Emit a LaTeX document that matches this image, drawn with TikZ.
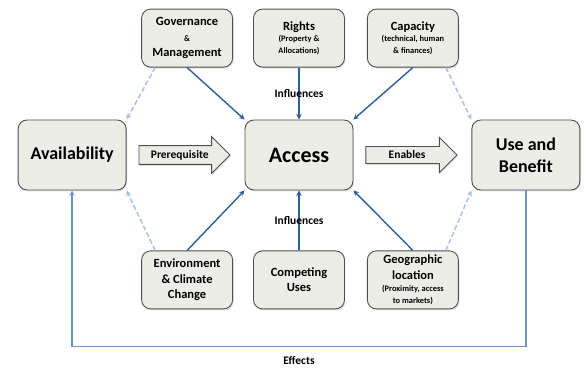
\documentclass[tikz,border=0pt]{standalone}
\usepackage{fontspec}
\setmainfont{Carlito}
\usetikzlibrary{positioning,shapes.arrows,shadows,calc}
\definecolor{boxfill}{HTML}{EDEDE7}
\definecolor{boxline}{HTML}{505050}
\definecolor{darkarrow}{HTML}{2E5E96}
\definecolor{lightarrow}{HTML}{A8C3E3}
\definecolor{fbline}{HTML}{6C95CB}
\newcommand{\subtxt}[1]{{\fontsize{8.4}{9.5}\selectfont #1}}

\begin{document}
\begin{tikzpicture}
		% Define styles
		\tikzstyle{block} = [rectangle, draw=boxline, fill=boxfill, line width=0.9pt,
		text centered, align=center, rounded corners=9pt,
		drop shadow={opacity=0.25, shadow xshift=1pt, shadow yshift=-1.5pt}]
		\tikzstyle{mainblock} = [block, minimum width=108pt, minimum height=70pt,
		font=\bfseries\fontsize{18}{22}\selectfont]
		\tikzstyle{sideblock} = [block, minimum width=91pt, minimum height=58pt,
		inner sep=2pt, font=\bfseries\fontsize{12.5}{15.5}\selectfont] % Small boxes
		\tikzstyle{bigarrow} = [single arrow, draw=boxline, fill=boxfill, line width=0.9pt,
		minimum height=91pt, single arrow head extend=9pt, inner ysep=4pt,
		font=\bfseries\fontsize{11.5}{13}\selectfont,
		drop shadow={opacity=0.25, shadow xshift=1pt, shadow yshift=-1.5pt}]
		\tikzstyle{influencearrow} = [darkarrow, line width=1.4pt, ->, >=stealth]
		\tikzstyle{dasharrow} = [lightarrow, line width=1.5pt, dash pattern=on 5pt off 2.5pt, ->, >=stealth]
		\tikzstyle{fbarrow} = [fbline, line width=1.4pt, ->, >=stealth]
		\tikzstyle{labeltext} = [font=\bfseries\fontsize{11.5}{13}\selectfont]
		
		% Fix the page size
		\useasboundingbox (-299pt,155pt) rectangle (285pt,-216pt);
		
		% Place nodes
		\node [mainblock, font=\bfseries\fontsize{22}{26}\selectfont] (access) at (0,0) {Access};
		\node [mainblock, left=118pt of access] (avail) {Availability};
		\node [mainblock, right=118pt of access] (use) {Use and\\Benefit};
		\node [bigarrow, right=12pt of avail] (prereq) {Prerequisite};
		\node [bigarrow, right=12pt of access] (enables) {Enables};
		
		\node [sideblock, above=52pt of access] (rights) {Rights\\[-4.5pt]\subtxt{(Property \&}\\[-4pt]\subtxt{Allocations)}};
		\node [sideblock, left=20pt of rights] (gov) {Governance\\\subtxt{\&}\\Management};
		\node [sideblock, right=22pt of rights] (capacity) {Capacity\\[-4.5pt]\subtxt{(technical, human}\\[-4pt]\subtxt{\& finances)}};
		
		\node [sideblock, below=60pt of access] (compete) {Competing\\Uses};
		\node [sideblock, left=20pt of compete] (env) {Environment\\\& Climate\\Change};
		\node [sideblock, right=22pt of compete] (geo) {Geographic\\location\\[-3pt]\subtxt{(Proximity, access}\\[-4pt]\subtxt{to markets)}};
		
		% Draw arrows
		\draw [influencearrow] (gov.south) -- (access.north west);
		\draw [influencearrow] (rights) -- (access);
		\draw [influencearrow] (capacity.south) -- (access.north east);
		\draw [influencearrow] (env.north) -- (access.south west);
		\draw [influencearrow] (compete) -- (access);
		\draw [influencearrow] (geo.north) -- (access.south east);
		\draw [dasharrow] ([xshift=14pt]gov.south west) -- (avail.north east);
		\draw [dasharrow] ([xshift=-13pt]capacity.south east) -- (use.north west);
		\draw [dasharrow] ([xshift=14pt]env.north west) -- (avail.south east);
		\draw [dasharrow] ([xshift=-13pt]geo.north east) -- (use.south west);
		\draw [fbarrow] (use.south) -- ++(0,-156pt) -| (avail.south)
		node [labeltext, pos=0.25, below=6pt, black] (effects) {Effects};
		
		% Labels on the vertical arrows
		\node [labeltext] (inftop) at ($(rights.south)!0.5!(access.north)$) {Influences};
		\node [labeltext] (infbot) at ($(compete.north)!0.5!(access.south)$) {Influences};
	\end{tikzpicture}
\end{document}
